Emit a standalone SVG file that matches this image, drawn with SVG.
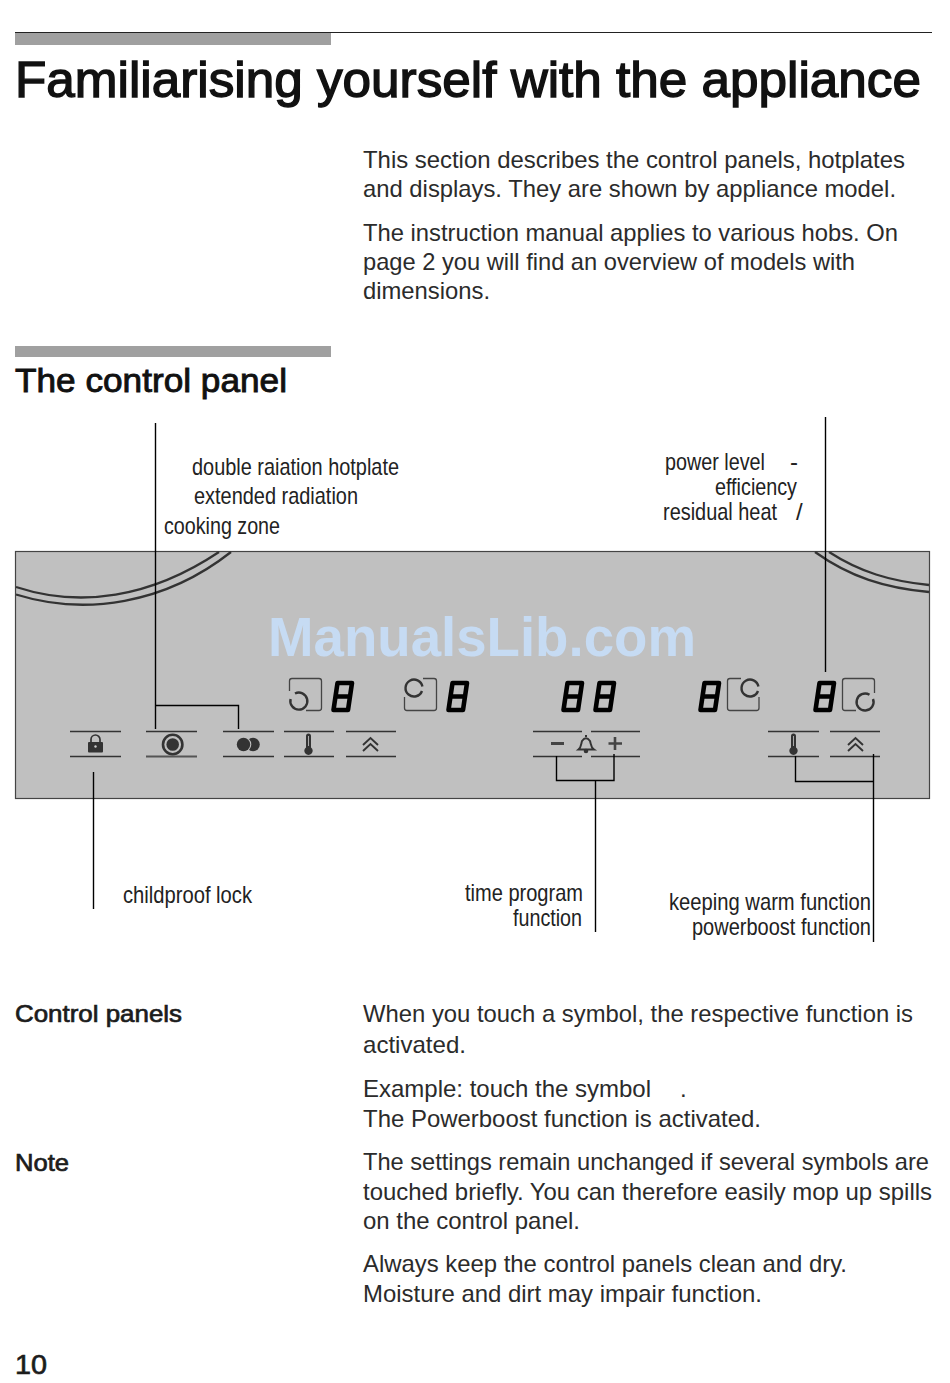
<svg xmlns="http://www.w3.org/2000/svg" xmlns:xlink="http://www.w3.org/1999/xlink" width="950" height="1383" viewBox="0 0 950 1383">
<style>
text{font-family:"Liberation Sans",Arial,sans-serif;fill:#262626}
.t{font-size:24px;fill:#2b2b2b}
.b{font-size:24px;fill:#1c1c1c;stroke:#1c1c1c;stroke-width:.7}
.l{font-size:24px;fill:#222}
.k{fill:none;stroke:#000;stroke-width:1.4}
.tl{fill:none;stroke:#333;stroke-width:1.3}
.ic{fill:none;stroke:#444;stroke-width:1.3}
.ci{fill:none;stroke:#333;stroke-width:2.4}
.hob{fill:none;stroke:#333;stroke-width:2.3}
.seg{fill:none;stroke:#000;stroke-width:4.600;stroke-linejoin:round}
.ink{fill:#333}
.ch{fill:none;stroke:#333;stroke-width:1.900}
</style>
<defs>
<g id="d8"><path class="seg" d="M6.500 3H21L17 30H2.500ZM4.500 16.500H19"/></g>
<g id="therm"><path class="ink" d="M-2.500 -9A2.500 2.500 0 0 1 2.500 -9V2.400A4.200 4.200 0 1 1 -2.500 2.400Z"/><path d="M0 -9V1" stroke="#aaa" stroke-width="1"/></g>
<path id="chev" class="ch" d="M-7.500 4L0 -3L7.500 4M-7.500 10L0 3L7.500 10"/>
</defs>
<rect width="950" height="1383" fill="#fff"/>
<g id="header">
<line x1="15" y1="32.500" x2="932" y2="32.500" stroke="#222" stroke-width="1"/>
<rect x="15" y="33" width="316" height="12" fill="#a0a0a0"/>
<text x="15" y="97" font-size="50" style="fill:#111;stroke:#111;stroke-width:1.400" textLength="906" lengthAdjust="spacingAndGlyphs">Familiarising yourself with the appliance</text>
</g>
<g id="intro">
<text class="t" x="363" y="168" textLength="542" lengthAdjust="spacingAndGlyphs">This section describes the control panels, hotplates</text>
<text class="t" x="363" y="197" textLength="533" lengthAdjust="spacingAndGlyphs">and displays. They are shown by appliance model.</text>
<text class="t" x="363" y="241" textLength="535" lengthAdjust="spacingAndGlyphs">The instruction manual applies to various hobs. On</text>
<text class="t" x="363" y="270" textLength="492" lengthAdjust="spacingAndGlyphs">page 2 you will find an overview of models with</text>
<text class="t" x="363" y="299" textLength="127" lengthAdjust="spacingAndGlyphs">dimensions.</text>
</g>
<g id="section">
<rect x="15" y="346" width="316" height="11" fill="#a0a0a0"/>
<text x="15" y="392" font-size="33" style="fill:#111;stroke:#111;stroke-width:.9" textLength="272" lengthAdjust="spacingAndGlyphs">The control panel</text>
</g>
<g id="panel">
<rect x="15.500" y="551.500" width="914" height="247" fill="#c0c0c0" stroke="#444" stroke-width="1.200"/>
<path class="hob" d="M16 587C80 608 150 598 219 552"/>
<path class="hob" d="M16 594.500C85 616 165 604 231 552"/>
<path class="hob" d="M829 552C860 572 890 581 929 585"/>
<path class="hob" d="M815 552C850 577 885 588 929 592"/>
<text x="268" y="656" font-size="55" font-weight="bold" style="fill:#c6dbf3" textLength="428" lengthAdjust="spacingAndGlyphs">ManualsLib.com</text>
</g>
<g id="displays">
<use xlink:href="#d8" href="#d8" x="331" y="680"/>
<use xlink:href="#d8" href="#d8" x="446" y="680"/>
<use xlink:href="#d8" href="#d8" x="561" y="680"/>
<use xlink:href="#d8" href="#d8" x="593" y="680"/>
<use xlink:href="#d8" href="#d8" x="698" y="680"/>
<use xlink:href="#d8" href="#d8" x="813" y="680"/>
</g>
<g id="zone-icon-1"><path class="ic" d="M289.500 691V681Q289.500 678.500 292 678.500H319Q321.500 678.500 321.500 681V708Q321.500 710.500 319 710.500H306"/><path class="ci" d="M295 693.500A8.500 8.500 0 1 1 290.600 699"/></g>
<g id="zone-icon-2"><path class="ic" d="M404.500 697V708Q404.500 710.500 407 710.500H434Q436.500 710.500 436.500 708V681Q436.500 678.500 434 678.500H423"/><path class="ci" d="M422.400 686.500A8.500 8.500 0 1 0 422 691"/></g>
<g id="zone-icon-3"><path class="ic" d="M741 678.500H730Q727.500 678.500 727.500 681V708Q727.500 710.500 730 710.500H756.500Q759 710.500 759 708V697"/><path class="ci" d="M758.400 686.500A8.500 8.500 0 1 0 758 691"/></g>
<g id="zone-icon-4"><path class="ic" d="M856 710.500H845Q842.500 710.500 842.500 708V681Q842.500 678.500 845 678.500H872Q874.500 678.500 874.500 681V693"/><path class="ci" d="M869.500 694.800A8.500 8.500 0 1 0 873 699"/></g>
<g id="touch-lock">
<path class="tl" d="M70 731.500H121M70 756.500H121"/>
<rect x="88" y="742" width="15" height="10.500" rx="1" class="ink"/><path d="M91 742V739.500A4.500 4.500 0 0 1 100 739.500V742" fill="none" stroke="#333" stroke-width="1.700"/><circle cx="95.500" cy="746.500" r="1.200" fill="#ccc"/>
</g>
<g id="touch-ring">
<path class="tl" d="M146 731.500H197"/><path d="M146 756.500H197" stroke="#555" stroke-width="2" fill="none"/>
<circle cx="172.700" cy="744.500" r="9.700" fill="none" stroke="#333" stroke-width="2.600"/><circle cx="172.700" cy="744.500" r="6.300" class="ink"/>
</g>
<g id="touch-double">
<path class="tl" d="M223 731.500H274M223 756.500H274"/>
<circle cx="253" cy="744.500" r="6.800" class="ink"/><circle cx="243.500" cy="744.500" r="7.800" fill="#c0c0c0"/><circle cx="243.500" cy="744.500" r="6.700" class="ink"/>
</g>
<g id="touch-temp">
<path class="tl" d="M284 731.500H334M284 756.500H334"/>
<use xlink:href="#therm" href="#therm" x="308.500" y="745"/>
</g>
<g id="touch-boost">
<path class="tl" d="M346 731.500H396M346 756.500H396"/>
<use xlink:href="#chev" href="#chev" x="370.500" y="741"/>
</g>
<g id="touch-timer">
<path class="tl" d="M533 731.500H582M591 731.500H640M533 756.500H582M591 756.500H640"/>
<path d="M551 743.500H564" stroke="#444" stroke-width="3" fill="none"/>
<path d="M608.500 743.500H622M615 737V750" stroke="#444" stroke-width="2.600" fill="none"/>
<path d="M578.500 749.500C581.500 747 581 744 582 741Q586 735.500 590 741C591 744 590.500 747 594 749.500Z" fill="none" stroke="#333" stroke-width="2"/><path d="M586 737V735" stroke="#333" stroke-width="2"/><circle cx="586" cy="751" r="2.300" class="ink"/>
</g>
<g id="touch-temp-right">
<path class="tl" d="M768 731.500H819M768 756.500H819"/>
<use xlink:href="#therm" href="#therm" x="793.500" y="745"/>
</g>
<g id="touch-boost-right">
<path class="tl" d="M830 731.500H880M830 756.500H880"/>
<use xlink:href="#chev" href="#chev" x="855.500" y="741"/>
</g>
<g id="connectors">
<path class="k" d="M155.500 423V729"/>
<path class="k" d="M155.500 705.500H238.500V729"/>
<path class="k" d="M93.500 772V909"/>
<path class="k" d="M556.500 756V780.500H614V754"/>
<path class="k" d="M595.500 780.500V932"/>
<path class="k" d="M795.500 756V781.500H873"/>
<path class="k" d="M873.500 754V942"/>
<path class="k" d="M825.500 417V672"/>
</g>
<g id="labels">
<text class="l" x="192" y="475" textLength="207" lengthAdjust="spacingAndGlyphs">double raiation hotplate</text>
<text class="l" x="194" y="504" textLength="164" lengthAdjust="spacingAndGlyphs">extended radiation</text>
<text class="l" x="164" y="534" textLength="116" lengthAdjust="spacingAndGlyphs">cooking zone</text>
<text class="l" x="665" y="470" textLength="100" lengthAdjust="spacingAndGlyphs">power level</text>
<text class="l" x="790" y="470">-</text>
<text class="l" x="715" y="495" textLength="82" lengthAdjust="spacingAndGlyphs">efficiency</text>
<text class="l" transform="translate(663 520) scale(.83 1)">residual heat</text>
<text class="l" x="796" y="520">/</text>
<text class="l" x="123" y="903" textLength="129" lengthAdjust="spacingAndGlyphs">childproof lock</text>
<text class="l" x="465" y="901" textLength="118" lengthAdjust="spacingAndGlyphs">time program</text>
<text class="l" x="513" y="926" textLength="69" lengthAdjust="spacingAndGlyphs">function</text>
<text class="l" x="669" y="910" textLength="202" lengthAdjust="spacingAndGlyphs">keeping warm function</text>
<text class="l" x="692" y="935" textLength="179" lengthAdjust="spacingAndGlyphs">powerboost function</text>
</g>
<g id="body">
<text class="b" x="15" y="1022" textLength="167" lengthAdjust="spacingAndGlyphs">Control panels</text>
<text class="t" x="363" y="1022" textLength="550" lengthAdjust="spacingAndGlyphs">When you touch a symbol, the respective function is</text>
<text class="t" x="363" y="1053" textLength="103" lengthAdjust="spacingAndGlyphs">activated.</text>
<text class="t" x="363" y="1097" textLength="288" lengthAdjust="spacingAndGlyphs">Example: touch the symbol</text>
<text class="t" x="680" y="1097">.</text>
<text class="t" x="363" y="1127" textLength="398" lengthAdjust="spacingAndGlyphs">The Powerboost function is activated.</text>
<text class="b" x="15" y="1171" textLength="54" lengthAdjust="spacingAndGlyphs">Note</text>
<text class="t" x="363" y="1170" textLength="566" lengthAdjust="spacingAndGlyphs">The settings remain unchanged if several symbols are</text>
<text class="t" x="363" y="1200" textLength="569" lengthAdjust="spacingAndGlyphs">touched briefly. You can therefore easily mop up spills</text>
<text class="t" x="363" y="1229" textLength="217" lengthAdjust="spacingAndGlyphs">on the control panel.</text>
<text class="t" x="363" y="1272" textLength="484" lengthAdjust="spacingAndGlyphs">Always keep the control panels clean and dry.</text>
<text class="t" x="363" y="1302" textLength="399" lengthAdjust="spacingAndGlyphs">Moisture and dirt may impair function.</text>
<text class="b" x="15" y="1374" style="font-size:28px" textLength="32" lengthAdjust="spacingAndGlyphs">10</text>
</g>
</svg>
